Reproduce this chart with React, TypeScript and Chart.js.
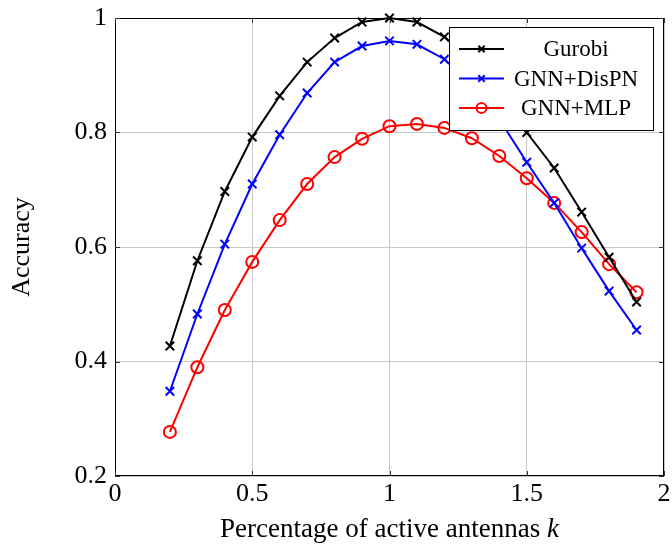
import React, { useEffect, useRef } from "react";
import { Chart, registerables } from "chart.js";

Chart.register(...registerables);

const xValues = [0.2, 0.3, 0.4, 0.5, 0.6, 0.7, 0.8, 0.9, 1.0, 1.1, 1.2, 1.3, 1.4, 1.5, 1.6, 1.7, 1.8, 1.9];
const gurobi = [0.427, 0.576, 0.697, 0.792, 0.864, 0.923, 0.965, 0.993, 1.0, 0.993, 0.967, 0.925, 0.868, 0.8, 0.738, 0.661, 0.582, 0.504];
const gnnDisPN = [0.348, 0.483, 0.605, 0.71, 0.796, 0.869, 0.923, 0.951, 0.96, 0.954, 0.928, 0.883, 0.823, 0.748, 0.677, 0.598, 0.523, 0.455];
const gnnMLP = [0.277, 0.39, 0.49, 0.574, 0.647, 0.71, 0.757, 0.789, 0.811, 0.815, 0.808, 0.79, 0.759, 0.72, 0.677, 0.626, 0.57, 0.521];
const seriesNames = ["Gurobi", "GNN+DisPN", "GNN+MLP"];
const xTickLabels = ["0", "0.5", "1", "1.5", "2"];
const yTickLabels = ["0.2", "0.4", "0.6", "0.8", "1"];
const xAxisTitle = "Percentage of active antennas ";
const xAxisVar = "k";
const yAxisTitle = "Accuracy";

const FONT = "'Liberation Serif', 'Times New Roman', serif";

const framePlugin = {
  id: "frame",
  beforeDatasetsDraw(chart: any) {
    const { ctx, chartArea: a, scales } = chart;
    ctx.save();
    ctx.strokeStyle = "#000";
    ctx.lineWidth = 1;
    ctx.strokeRect(a.left + 0.5, a.top + 0.5, a.right - a.left - 1, a.bottom - a.top - 1);
    // inward tick marks
    ctx.strokeStyle = "#333";
    const tl = 5;
    const xs = scales.x;
    const ys = scales.y;
    xs.ticks.forEach((t: any) => {
      const px = Math.round(xs.getPixelForValue(t.value)) + 0.5;
      ctx.beginPath();
      ctx.moveTo(px, a.bottom);
      ctx.lineTo(px, a.bottom - tl);
      ctx.moveTo(px, a.top);
      ctx.lineTo(px, a.top + tl);
      ctx.stroke();
    });
    ys.ticks.forEach((t: any) => {
      const py = Math.round(ys.getPixelForValue(t.value)) + 0.5;
      ctx.beginPath();
      ctx.moveTo(a.left, py);
      ctx.lineTo(a.left + tl, py);
      ctx.moveTo(a.right, py);
      ctx.lineTo(a.right - tl, py);
      ctx.stroke();
    });
    ctx.restore();
  },
  afterDraw(chart: any) {
    const { ctx, chartArea: a } = chart;
    ctx.save();
    // x axis title with italic variable
    ctx.fillStyle = "#000";
    ctx.textBaseline = "alphabetic";
    const normalFont = `27px ${FONT}`;
    const italicFont = `italic 27px ${FONT}`;
    ctx.font = normalFont;
    const w1 = ctx.measureText(xAxisTitle).width;
    ctx.font = italicFont;
    const w2 = ctx.measureText(xAxisVar).width;
    const cx = (a.left + a.right) / 2;
    const startX = cx - (w1 + w2) / 2;
    const by = 537;
    ctx.font = normalFont;
    ctx.textAlign = "left";
    ctx.fillText(xAxisTitle, startX, by);
    ctx.font = italicFont;
    ctx.fillText(xAxisVar, startX + w1, by);

    // y axis title
    ctx.save();
    ctx.translate(22, (a.top + a.bottom) / 2);
    ctx.rotate(-Math.PI / 2);
    ctx.font = `26px ${FONT}`;
    ctx.textAlign = "center";
    ctx.textBaseline = "middle";
    ctx.fillText(yAxisTitle, 0, 0);
    ctx.restore();

    // legend
    const lx = 449.5, ly = 27.5, lw = 204, lh = 103;
    ctx.fillStyle = "#fff";
    ctx.fillRect(lx, ly, lw, lh);
    ctx.strokeStyle = "#000";
    ctx.lineWidth = 1;
    ctx.strokeRect(lx, ly, lw, lh);
    const rows = [49, 78.5, 108];
    chart.data.datasets.forEach((ds: any, i: number) => {
      const y = rows[i];
      ctx.strokeStyle = ds.borderColor;
      ctx.lineWidth = 2;
      ctx.beginPath();
      ctx.moveTo(459, y);
      ctx.lineTo(504, y);
      ctx.stroke();
      ctx.lineWidth = 2;
      const mx = 481.5;
      if (ds.pointStyle === "circle") {
        ctx.beginPath();
        ctx.arc(mx, y, 5, 0, Math.PI * 2);
        ctx.stroke();
      } else {
        const r = 3.2;
        ctx.beginPath();
        ctx.moveTo(mx - r, y - r);
        ctx.lineTo(mx + r, y + r);
        ctx.moveTo(mx + r, y - r);
        ctx.lineTo(mx - r, y + r);
        ctx.stroke();
      }
      ctx.fillStyle = "#000";
      ctx.font = `23px ${FONT}`;
      ctx.textAlign = "center";
      ctx.textBaseline = "middle";
      ctx.fillText(ds.label, 576, y + 1);
    });
    ctx.restore();
  },
};

function makeData(values: number[]) {
  return xValues.map((x, i) => ({ x, y: values[i] }));
}

export default function App() {
  const canvasRef = useRef<HTMLCanvasElement | null>(null);

  useEffect(() => {
    if (!canvasRef.current) return;
    const chart = new Chart(canvasRef.current, {
      type: "line",
      data: {
        datasets: [
          {
            label: seriesNames[0],
            data: makeData(gurobi),
            borderColor: "#000000",
            backgroundColor: "#000000",
            borderWidth: 2,
            pointStyle: "crossRot",
            pointRadius: 6,
            pointBorderWidth: 2,
            tension: 0,
            clip: false,
          },
          {
            label: seriesNames[1],
            data: makeData(gnnDisPN),
            borderColor: "#0000ff",
            backgroundColor: "#0000ff",
            borderWidth: 2,
            pointStyle: "crossRot",
            pointRadius: 6,
            pointBorderWidth: 2,
            tension: 0,
            clip: false,
          },
          {
            label: seriesNames[2],
            data: makeData(gnnMLP),
            borderColor: "#ff0000",
            backgroundColor: "rgba(0,0,0,0)",
            pointBackgroundColor: "rgba(0,0,0,0)",
            borderWidth: 2,
            pointStyle: "circle",
            pointRadius: 6,
            pointBorderWidth: 2,
            tension: 0,
            clip: false,
          },
        ] as any,
      },
      options: {
        animation: false,
        responsive: true,
        maintainAspectRatio: false,
        layout: { padding: { left: 0, right: 6, top: 18, bottom: 0 } },
        plugins: {
          legend: { display: false },
          tooltip: { enabled: false },
        },
        scales: {
          x: {
            type: "linear",
            min: 0,
            max: 2,
            afterFit(scale: any) {
              scale.height = 72;
              scale.paddingLeft = 0;
              scale.paddingRight = 0;
              scale.paddingTop = 0;
              scale.paddingBottom = 0;
            },
            afterBuildTicks(scale: any) {
              scale.ticks = xTickLabels.map((l) => ({ value: parseFloat(l) }));
            },
            ticks: {
              padding: 3,
              color: "#000",
              font: { family: FONT, size: 26 },
              maxRotation: 0,
              autoSkip: false,
              callback: (v: any) => xTickLabels.find((l) => parseFloat(l) === v) ?? "",
            },
            grid: { color: "#c8c8c8", lineWidth: 1, drawTicks: false },
            border: { display: false },
          },
          y: {
            type: "linear",
            min: 0.2,
            max: 1,
            afterFit(scale: any) {
              scale.width = 115;
              scale.paddingLeft = 0;
              scale.paddingRight = 0;
              scale.paddingTop = 0;
              scale.paddingBottom = 0;
            },
            afterBuildTicks(scale: any) {
              scale.ticks = yTickLabels.map((l) => ({ value: parseFloat(l) }));
            },
            ticks: {
              padding: 8,
              color: "#000",
              font: { family: FONT, size: 26 },
              autoSkip: false,
              callback: (v: any) => yTickLabels.find((l) => Math.abs(parseFloat(l) - v) < 1e-9) ?? "",
            },
            grid: { color: "#c8c8c8", lineWidth: 1, drawTicks: false },
            border: { display: false },
          },
        },
      },
      plugins: [framePlugin],
    });
    return () => chart.destroy();
  }, []);

  return (
    <div style={{ position: "absolute", left: 0, top: 0, width: 672, height: 548, background: "#fff" }}>
      <canvas ref={canvasRef} />
    </div>
  );
}
